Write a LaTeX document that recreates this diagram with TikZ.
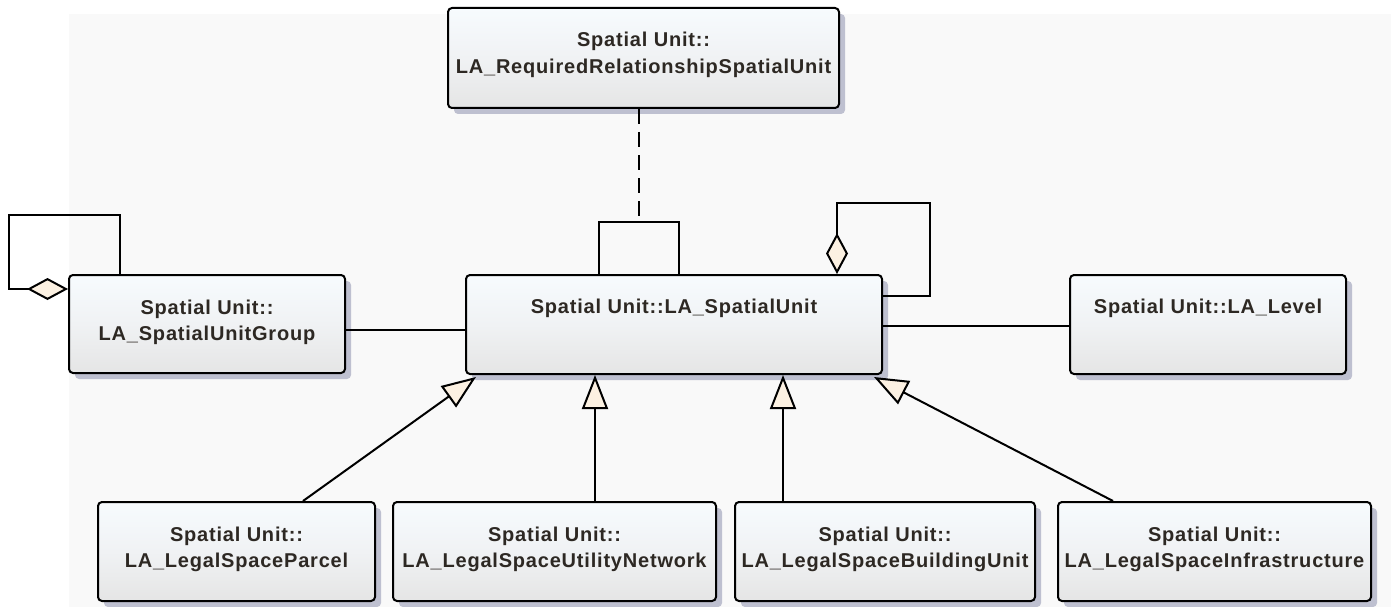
\documentclass[tikz,border=0pt]{standalone}
\usepackage{fontspec}
\newfontfamily\lblfont{Liberation Sans}[LetterSpace=4]
\usetikzlibrary{arrows.meta,shadows}
\definecolor{bgc}{RGB}{249,249,249}
\definecolor{boxtop}{RGB}{247,251,254}
\definecolor{boxmid}{RGB}{240,242,244}
\definecolor{boxbot}{RGB}{229,229,229}
\definecolor{shadowc}{RGB}{190,192,208}
\definecolor{cream}{RGB}{252,241,226}
\definecolor{txtc}{RGB}{45,40,35}
\tikzset{
  cls/.style={draw=black, line width=2pt, rounded corners=4pt,
    top color=boxtop, bottom color=boxbot, middle color=boxmid, inner sep=0pt,
    drop shadow={shadow xshift=6pt, shadow yshift=-6pt, fill=shadowc, opacity=1}},
  lbl/.style={font=\lblfont\bfseries\fontsize{20}{26.5}\selectfont, text=txtc,
    align=center, inner sep=0pt},
  conn/.style={line width=2pt, line join=miter},
  gen/.style={conn, -{Triangle[length=34pt,width=26pt,fill=cream]}},
  agg/.style={conn, {Diamond[length=41pt,width=22pt,fill=cream]}-},
}
\begin{document}
\begin{tikzpicture}[x=1pt,y=-1pt]
\useasboundingbox (0,0) rectangle (1391,607);
\fill[bgc] (69,14) rectangle (1391,607);

% boxes
\node[cls, minimum width=391pt, minimum height=100pt] (req) at (643.5,58) {};
\node[cls, minimum width=416pt, minimum height=99pt] (su) at (674,324.5) {};
\node[cls, minimum width=276pt, minimum height=98pt] (grp) at (207,324) {};
\node[cls, minimum width=276pt, minimum height=99pt] (lev) at (1208,324.5) {};
\node[cls, minimum width=277pt, minimum height=99pt] (par) at (236.5,551.5) {};
\node[cls, minimum width=323pt, minimum height=99pt] (uti) at (554.5,551.5) {};
\node[cls, minimum width=300pt, minimum height=99pt] (bld) at (885,551.5) {};
\node[cls, minimum width=313pt, minimum height=99pt] (inf) at (1214.5,551.5) {};

% labels
\node[lbl] (req-t) at (643.5,55) {Spatial Unit::\\LA\_RequiredRelationshipSpatialUnit};
\node[lbl] (su-t) at (674,308) {Spatial Unit::LA\_SpatialUnit};
\node[lbl] (grp-t) at (207,322.5) {Spatial Unit::\\LA\_SpatialUnitGroup};
\node[lbl] (lev-t) at (1208,308) {Spatial Unit::LA\_Level};
\node[lbl] (par-t) at (236.5,549.5) {Spatial Unit::\\LA\_LegalSpaceParcel};
\node[lbl] (uti-t) at (554.5,549.5) {Spatial Unit::\\LA\_LegalSpaceUtilityNetwork};
\node[lbl] (bld-t) at (885,549.5) {Spatial Unit::\\LA\_LegalSpaceBuildingUnit};
\node[lbl] (inf-t) at (1214.5,549.5) {Spatial Unit::\\LA\_LegalSpaceInfrastructure};

% plain associations
\draw[conn] ([yshift=-6pt]grp.east) -- ([yshift=-6pt]grp.east -| su.west);
\draw[conn] ([yshift=-1.5pt]su.east) -- ([yshift=-1.5pt]su.east -| lev.west);

% association class link
\coordinate (acl) at (599,222);
\coordinate (acr) at (679,222);
\coordinate (acm) at (639,222);
\draw[conn, dash pattern=on 15pt off 8pt] (req.south -| acm) -- (acm);
\draw[conn] (su.north -| acl) -- (acl) -- (acr) -- (su.north -| acr);

% self aggregation on LA_SpatialUnit
\coordinate (sl1) at (837,203);
\coordinate (sl2) at (930,296);
\draw[agg] (su.north -| sl1) -- (sl1) -| (sl2) -- (sl2 -| su.east);

% self aggregation on LA_SpatialUnitGroup
\coordinate (gl1) at (9,289);
\coordinate (gl2) at (120,215);
\draw[agg] (grp.west |- gl1) -- (gl1) |- (gl2) -- (gl2 |- grp.north);

% generalizations
\coordinate (g1) at (303,0);
\coordinate (g1t) at (476,0);
\coordinate (g2) at (595,0);
\coordinate (g3) at (783,0);
\coordinate (g4) at (1113,0);
\coordinate (g4t) at (874,0);
\draw[gen] (par.north -| g1) -- ([yshift=-2pt]su.south -| g1t);
\draw[gen] (uti.north -| g2) -- (su.south -| g2);
\draw[gen] (bld.north -| g3) -- (su.south -| g3);
\draw[gen] (inf.north -| g4) -- ([yshift=-2pt]su.south -| g4t);
\end{tikzpicture}
\end{document}
